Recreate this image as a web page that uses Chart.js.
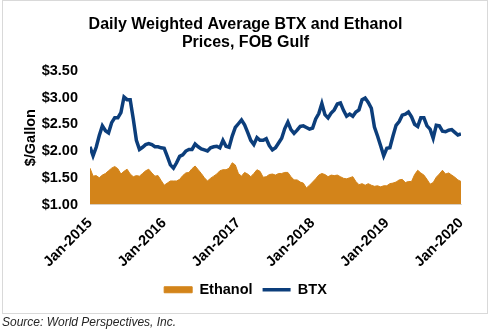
<!DOCTYPE html>
<html>
<head>
<meta charset="utf-8">
<script src="https://cdn.jsdelivr.net/npm/chart.js@4.4.1/dist/chart.umd.min.js"></script>
<style>
  html, body { margin: 0; padding: 0; background: #fff; width: 491px; height: 331px; overflow: hidden; }
  #frame { position: absolute; left: 2px; top: 0; width: 486px; height: 314px; border: 1px solid #d9d9d9; box-sizing: border-box; }
  #chart { position: absolute; left: 0; top: 0; }
  #source { position: absolute; left: 2px; top: 315px; font: italic 12px "Liberation Sans", Arial, sans-serif; line-height: 14px; color: #262626; white-space: nowrap; }
</style>
</head>
<body>
<div id="frame"></div>
<canvas id="chart" width="491" height="331"></canvas>
<div id="source">Source: World Perspectives, Inc.</div>
<script>
// semi-monthly readings, Jan-2015 .. Jan-2020
const startYear = 2015;
const periodsPerYear = 24;
const xTickLabels = ['Jan-2015', 'Jan-2016', 'Jan-2017', 'Jan-2018', 'Jan-2019', 'Jan-2020'];

const btx = [
  2.08, 1.91, 2.07, 2.29, 2.47, 2.38, 2.34, 2.53, 2.62, 2.62, 2.72, 3.01,
  2.96, 2.96, 2.60, 2.20, 2.03, 2.07, 2.12, 2.14, 2.12, 2.08, 2.08, 2.06,
  2.05, 1.90, 1.74, 1.68, 1.78, 1.90, 1.93, 2.00, 2.03, 2.03, 2.13, 2.08,
  2.04, 2.02, 2.00, 2.06, 2.08, 2.09, 2.06, 2.20, 2.09, 2.07, 2.28, 2.44,
  2.51, 2.58, 2.49, 2.35, 2.20, 2.12, 2.25, 2.20, 2.20, 2.23, 2.10, 2.02,
  2.06, 2.15, 2.24, 2.42, 2.54, 2.40, 2.33, 2.39, 2.46, 2.47, 2.44, 2.41,
  2.43, 2.60, 2.70, 2.89, 2.68, 2.62, 2.71, 2.77, 2.88, 2.90, 2.76, 2.65,
  2.69, 2.65, 2.73, 2.77, 2.96, 2.99, 2.91, 2.80, 2.45, 2.28, 2.10, 1.91,
  2.05, 2.06, 2.28, 2.48, 2.55, 2.67, 2.69, 2.73, 2.64, 2.50, 2.46, 2.62,
  2.62, 2.47, 2.41, 2.24, 2.48, 2.47, 2.37, 2.36, 2.39, 2.40, 2.35, 2.30,
  2.32
];

const ethanol = [
  1.68, 1.53, 1.54, 1.50, 1.55, 1.58, 1.63, 1.68, 1.71, 1.67, 1.57, 1.62,
  1.66, 1.57, 1.52, 1.54, 1.53, 1.58, 1.63, 1.66, 1.59, 1.53, 1.54, 1.45,
  1.36, 1.40, 1.44, 1.44, 1.44, 1.47, 1.54, 1.59, 1.60, 1.67, 1.72, 1.65,
  1.58, 1.50, 1.44, 1.49, 1.53, 1.57, 1.63, 1.65, 1.65, 1.68, 1.78, 1.74,
  1.58, 1.53, 1.60, 1.57, 1.52, 1.58, 1.65, 1.62, 1.51, 1.52, 1.56, 1.57,
  1.55, 1.58, 1.58, 1.60, 1.60, 1.52, 1.46, 1.46, 1.42, 1.40, 1.31, 1.36,
  1.42, 1.48, 1.55, 1.58, 1.56, 1.52, 1.55, 1.54, 1.55, 1.52, 1.49, 1.48,
  1.50, 1.52, 1.43, 1.37, 1.39, 1.36, 1.39, 1.36, 1.34, 1.35, 1.33, 1.35,
  1.35, 1.39, 1.40, 1.42, 1.46, 1.47, 1.41, 1.43, 1.43, 1.56, 1.64, 1.59,
  1.55, 1.47, 1.38, 1.41, 1.51, 1.57, 1.64, 1.57, 1.59, 1.55, 1.51, 1.46,
  1.43
];

const periods = btx.map((_, i) => startYear + i / periodsPerYear);

const orange = '#d3841a';
const blue = '#0c3e7b';
const font = { family: '"Liberation Sans", Arial, sans-serif', weight: 'bold', size: 14.5 };

new Chart(document.getElementById('chart'), {
  type: 'line',
  data: {
    datasets: [
      {
        label: 'Ethanol',
        data: periods.map((x, i) => ({ x, y: ethanol[i] })),
        fill: 'start',
        backgroundColor: orange,
        borderColor: orange,
        borderWidth: 1,
        pointRadius: 0,
        pointStyle: 'rect',
      },
      {
        label: 'BTX',
        data: periods.map((x, i) => ({ x, y: btx[i] })),
        fill: false,
        backgroundColor: blue,
        borderColor: blue,
        borderWidth: 3.5,
        pointRadius: 0,
        pointStyle: 'line',
      },
    ]
  },
  options: {
    responsive: false,
    animation: false,
    layout: { padding: { left: 0, right: 0, top: 0, bottom: 24 } },
    plugins: {
      title: {
        display: true,
        text: ['Daily Weighted Average BTX and Ethanol', 'Prices, FOB Gulf'],
        color: '#000',
        font: { family: font.family, weight: 'bold', size: 16, lineHeight: 1.15 },
        padding: { top: 15, bottom: 19 },
      },
      legend: {
        position: 'bottom',
        labels: {
          usePointStyle: true,
          pointStyleWidth: 28,
          boxHeight: 6,
          padding: 10,
          color: '#000',
          font,
        },
      },
      tooltip: { enabled: false },
    },
    scales: {
      x: {
        type: 'linear',
        min: 2015,
        max: 2020,
        grid: { display: false },
        border: { display: true, color: '#d9d9d9', width: 1 },
        ticks: {
          stepSize: 1,
          autoSkip: false,
          minRotation: 45,
          maxRotation: 45,
          padding: 2,
          color: '#000',
          font,
          callback: (v, i) => xTickLabels[i],
        },
        afterFit: s => { s.height = 68; },
      },
      y: {
        min: 1,
        max: 3.5,
        grid: { display: false },
        border: { display: false },
        ticks: {
          stepSize: 0.5,
          padding: 4,
          color: '#000',
          font,
          callback: v => '$' + v.toFixed(2),
        },
        title: {
          display: true,
          text: '$/Gallon',
          color: '#000',
          font,
          padding: { top: 22, bottom: 0 },
        },
        afterFit: s => { s.width = 90; },
      },
      yRight: {
        position: 'right',
        grid: { display: false },
        border: { display: false },
        ticks: { display: false },
        afterFit: s => { s.width = 30; },
      },
    },
  }
});
</script>
</body>
</html>
